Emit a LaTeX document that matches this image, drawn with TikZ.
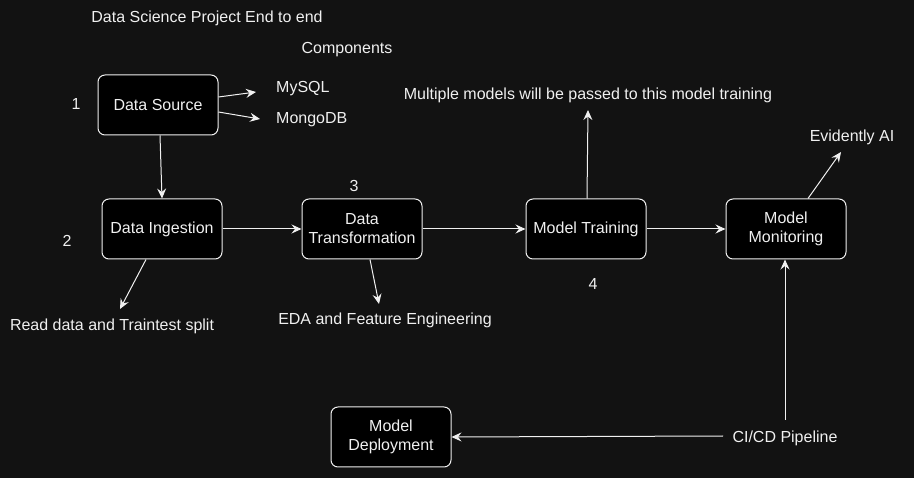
\documentclass[tikz,border=0pt]{standalone}
\usepackage{fontspec}
\setmainfont{Liberation Sans}
\usetikzlibrary{arrows.meta}
\definecolor{bg}{HTML}{121212}
\definecolor{fg}{HTML}{F0F0F0}
\begin{document}
\begin{tikzpicture}[x=1pt,y=-1pt,
  every node/.style={text=fg,font=\fontsize{16}{19}\selectfont},
  box/.style={draw=fg,fill=black,rounded corners=7pt,minimum width=120pt,minimum height=60pt,align=center,line width=1pt,inner sep=0pt},
  lbl/.style={inner sep=0pt},
  conn/.style={draw=fg,line width=1pt,-{Stealth[length=10pt,width=9pt,inset=3.5pt]}}
]
\useasboundingbox[fill=bg] (0,0) rectangle (914,478);
% boxes
\node[box] (ds) at (158,105) {Data Source};
\node[box] (di) at (162,229) {Data Ingestion};
\node[box] (dt) at (362,229) {Data\\Transformation};
\node[box] (mt) at (586,229) {Model Training};
\node[box] (mm) at (786,229) {Model\\Monitoring};
\node[box] (md) at (391,437) {Model\\Deployment};
% labels
\node[lbl] (title) at (207,18) {Data Science Project End to end};
\node[lbl] (comp) at (347,50) {Components};
\node[lbl] (n1) at (76,104) {1};
\node[lbl] (n2) at (67,241) {2};
\node[lbl] (n3) at (354,186) {3};
\node[lbl] (n4) at (593,284) {4};
\node[lbl,anchor=west] (mysql) at (276,89) {MySQL};
\node[lbl,anchor=west] (mongo) at (276,120) {MongoDB};
\node[lbl] (read) at (112,326) {Read data and Traintest split};
\node[lbl] (eda) at (385,320) {EDA and Feature Engineering};
\node[lbl] (multi) at (588,95) {Multiple models will be passed to this model training};
\node[lbl] (evid) at (852,137) {Evidently AI};
\node[inner sep=0pt] (cicd) at (785,438) {CI/CD Pipeline};
% free ends
\coordinate (tipmysql) at (256,92);
\coordinate (tipmongo) at (260,119);
\coordinate (tipread) at (120,309);
\coordinate (tipeda) at (379,304);
\coordinate (tipmulti) at (588,110);
\coordinate (tipevid) at (841,152);
\coordinate (cicdtop) at (785,420);
\coordinate (cicdleft) at (723,436);
% connectors
\draw[conn] ([yshift=8pt]ds.east) -- (tipmysql);
\draw[conn] ([yshift=-7pt]ds.east) -- (tipmongo);
\draw[conn] ([xshift=2pt]ds.south) -- (di.north);
\draw[conn] ([xshift=-16pt]di.south) -- (tipread);
\draw[conn] ([xshift=8pt]dt.south) -- (tipeda);
\draw[conn] (di.east) -- (dt.west);
\draw[conn] (dt.east) -- (mt.west);
\draw[conn] (mt.east) -- (mm.west);
\draw[conn] ([xshift=1pt]mt.north) -- (tipmulti);
\draw[conn] ([xshift=22pt]mm.north) -- (tipevid);
\draw[conn] (cicdtop) -- ([xshift=-1pt]mm.south);
\draw[conn] (cicdleft) -- (md.east);
\end{tikzpicture}
\end{document}
